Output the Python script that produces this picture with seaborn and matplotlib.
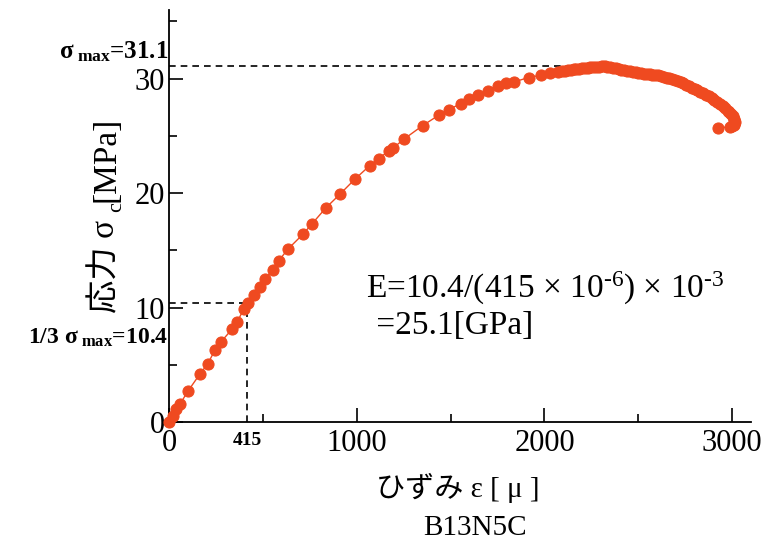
import matplotlib
matplotlib.use('Agg')
import matplotlib.pyplot as plt
import seaborn as sns
from matplotlib.ticker import MultipleLocator

# strain [micro] and stress [MPa] (ends with a small hook)
strain = [0, 20, 37, 60, 101, 165, 207, 245, 277, 335, 362, 399, 420, 452, 484,
          511, 553, 585, 633, 713, 761, 835, 910, 989, 1069, 1117, 1170, 1191,
          1250, 1351, 1436, 1489, 1553, 1596, 1644, 1697, 1750, 1793, 1835, 1915,
          1979, 2032, 2074, 2095, 2110, 2125, 2140, 2155, 2170, 2185, 2200, 2215,
          2230, 2245, 2260, 2275, 2290, 2305, 2320, 2335, 2350, 2365, 2380, 2395,
          2410, 2425, 2440, 2455, 2470, 2485, 2500, 2515, 2530, 2545, 2560, 2575,
          2590, 2605, 2620, 2635, 2650, 2665, 2680, 2695, 2710, 2725, 2740, 2755,
          2770, 2785, 2800, 2815, 2830, 2845, 2860, 2875, 2890, 2905, 2920, 2935,
          2950, 2963, 2975, 2985, 2995, 3002, 3008, 3012, 3014, 3012, 3008, 2998,
          2990, 2925]
stress = [0, 0.5, 1.1, 1.6, 2.7, 4.2, 5.1, 6.3, 7.0, 8.1, 8.7, 9.9, 10.4, 11.1,
          11.8, 12.5, 13.3, 14.1, 15.1, 16.4, 17.3, 18.7, 19.9, 21.2, 22.4, 23.0,
          23.7, 23.9, 24.7, 25.9, 26.8, 27.3, 27.8, 28.2, 28.6, 28.9, 29.4, 29.6,
          29.7, 30.1, 30.3, 30.5, 30.6, 30.65, 30.7, 30.75, 30.8, 30.82, 30.85,
          30.88, 30.9, 30.92, 30.95, 30.98, 31.0, 31.02, 31.05, 31.08, 31.1,
          31.05, 31.0, 30.95, 30.9, 30.85, 30.8, 30.75, 30.7, 30.65, 30.6, 30.55,
          30.5, 30.48, 30.45, 30.42, 30.4, 30.35, 30.3, 30.28, 30.25, 30.18,
          30.1, 30.02, 29.95, 29.88, 29.8, 29.7, 29.6, 29.48, 29.35, 29.22, 29.1,
          28.98, 28.85, 28.72, 28.6, 28.45, 28.3, 28.12, 27.95, 27.78, 27.6,
          27.4, 27.2, 27.05, 26.9, 26.7, 26.5, 26.35, 26.2, 26.05, 25.95, 25.85,
          25.8, 25.7]

sigma_max = 31.1
sigma_third = 10.4
strain_third = 415
strain_peak = 2300
x_ticks = [0, 1000, 2000, 3000]
y_ticks = [0, 10, 20, 30]
specimen = 'B13N5C'

RED = '#EF4A20'
W, H = 766, 555

sns.set_style('ticks')
plt.rcParams['font.family'] = ['Liberation Serif', 'Noto Sans CJK JP']
plt.rcParams['text.color'] = 'black'
plt.rcParams['mathtext.fontset'] = 'custom'
plt.rcParams['mathtext.rm'] = 'Liberation Serif'
plt.rcParams['mathtext.it'] = 'Liberation Serif:italic'
plt.rcParams['mathtext.bf'] = 'Liberation Serif:bold'

fig = plt.figure(figsize=(W / 100, H / 100), dpi=100)
ax = fig.add_axes([169 / W, 1 - 422 / H, 582 / W, 412 / H])

# dashed guide lines
dash = dict(color='black', lw=1.2, ls=(0, (4, 3)), zorder=3)
ax.plot([0, strain_peak], [sigma_max, sigma_max], **dash)
ax.plot([0, strain_third], [sigma_third, sigma_third], **dash)
ax.plot([strain_third, strain_third], [0, sigma_third], **dash)

sns.lineplot(x=strain, y=stress, sort=False, estimator=None, marker='o',
             markersize=8, color=RED, mec=RED, lw=1, ax=ax, clip_on=False,
             zorder=4)

ax.set_xlim(0, 3100)
ax.set_ylim(0, 36)
ax.set_xticks(x_ticks)
ax.set_yticks(y_ticks)
ax.xaxis.set_minor_locator(MultipleLocator(500))
ax.yaxis.set_minor_locator(MultipleLocator(5))
ax.tick_params(which='major', direction='in', length=10, width=1.2,
               color='black', labelsize=22, labelcolor='black')
ax.tick_params(which='minor', direction='in', length=6, width=1.2, color='black')
ax.tick_params(axis='x', pad=5)
ax.tick_params(axis='y', pad=3)
ax.set_xlabel('')
ax.set_ylabel('')
for s in ['top', 'right']:
    ax.spines[s].set_visible(False)
for s in ['left', 'bottom']:
    ax.spines[s].set_color('black')
    ax.spines[s].set_linewidth(1.3)

# annotations
ax.annotate(str(strain_third), xy=(strain_third, 0), xytext=(0, -7),
            textcoords='offset points', ha='center', va='top',
            fontsize=14, fontweight='bold')
fig.text(168 / W, 1 - 58 / H,
         r'$\mathbf{σ}_{\mathbf{\ max}}$=%.1f' % sigma_max,
         ha='right', va='baseline', fontsize=18, fontweight='bold')
fig.text(168 / W, 1 - 344 / H,
         r'1/3 $\mathbf{σ}_{\mathbf{\ max}}$=%.1f' % sigma_third,
         ha='right', va='baseline', fontsize=17, fontweight='bold')
fig.text(366 / W, 1 - 298 / H,
         r'E=10.4/(415 × 10$^{\text{-6}}$) × 10$^{\text{-3}}$',
         ha='left', va='baseline', fontsize=24)
fig.text(368 / W, 1 - 334 / H, ' =25.1[GPa]', ha='left', va='baseline',
         fontsize=24)

fig.text(458 / W, 1 - 488 / H, 'ひずみ ε [ μ ]', ha='center', va='center',
         fontsize=21)
fig.text(475 / W, 1 - 528 / H, specimen, ha='center', va='center', fontsize=21)

# rotated y label built from pieces so that "c" can be a subscript
fig.canvas.draw()
r = fig.canvas.get_renderer()
base_x, y0 = 114, H - 313
pieces = [('応力 σ ', 24, 0), ('c', 16, 7), ('[MPa]', 24, 0)]
for txt, size, shift in pieces:
    t = fig.text((base_x + shift) / W, y0 / H, txt, rotation=90,
                 rotation_mode='anchor', ha='left', va='baseline', fontsize=size)
    y0 = t.get_window_extent(r).y1

fig.savefig('out.png', dpi=100)
